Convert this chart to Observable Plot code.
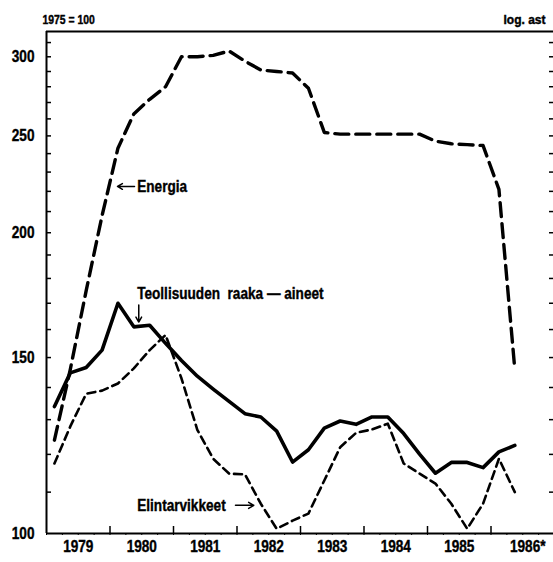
<!DOCTYPE html>
<html><head><meta charset="utf-8">
<script src="https://cdn.jsdelivr.net/npm/d3@7"></script>
<script src="https://cdn.jsdelivr.net/npm/@observablehq/plot@0.6"></script>
<style>body{margin:0;background:#fff} svg{display:block}</style>
</head><body><div id="chart"></div>
<script>
// ---- data ----
const years = [1979, 1980, 1981, 1982, 1983, 1984, 1985, 1986];
const yearLabels = ["1979", "1980", "1981", "1982", "1983", "1984", "1985", "1986*"];
const quarterYear = [1979,1979,1979,1979,1980,1980,1980,1980,1981,1981,1981,1981,1982,1982,1982,1982,1983,1983,1983,1983,1984,1984,1984,1984,1985,1985,1985,1985,1986,1986];
const quarterNum  = [1,2,3,4,1,2,3,4,1,2,3,4,1,2,3,4,1,2,3,4,1,2,3,4,1,2,3,4,1,2];
const energia = [124, 146, 175, 208, 243, 263, 272, 280, 300, 300, 301, 304, 297, 291, 290, 289, 279, 252, 251, 251, 251, 251, 251, 251, 247, 245.5, 245, 244.5, 221, 146];
const teollisuus = [134, 144.8, 146.6, 152.6, 170, 161, 161.6, 155, 149, 143.7, 139.5, 135.6, 131.8, 130.8, 126.6, 117.9, 121.3, 127.5, 129.6, 128.6, 130.8, 130.8, 125.9, 120.1, 114.9, 117.8, 117.8, 116.4, 120.7, 122.5];
const elintarvikkeet = [117.5, 128, 138, 139, 141.3, 146.3, 152.6, 158, 143, 127, 118.8, 114.8, 114.6, 107.1, 101.1, 103, 104.7, 113, 122, 126.1, 127.1, 128.8, 117.5, 114.8, 112.2, 107.1, 101.1, 107.1, 118.8, 110];
const yTickValues = [100, 150, 200, 250, 300];
const yMinorTicks = [110,120,130,140,150,160,170,180,190,200,210,220,230,240,250,260,270,280,290,300,310];
const baseNote = "1975 = 100";
const scaleNote = "log. ast";
// annotations (data coordinates)
const annotText = ["Energia", "Teollisuuden  raaka — aineet", "Elintarvikkeet"];
const annotX = [1980.428, 1980.428, 1980.428];
const annotY = [222.5, 174, 106.7];
const arrowX1 = [1980.386, 1980.453, 1981.976];
const arrowY1 = [222.5, 169.3, 106.7];
const arrowX2 = [1980.118, 1980.453, 1982.265];
const arrowY2 = [222.5, 162.8, 106.7];

// ---- build tables ----
const t = quarterYear.map((y, i) => y + (quarterNum[i] - 0.5) / 4);
const rows = (vals) => vals.map((v, i) => ({x: t[i], y: v}));
const labels = years.map((y, i) => ({x: y + 0.5, label: yearLabels[i]}));
const annots = annotText.map((s, i) => ({x: annotX[i], y: annotY[i], text: s}));
const arrows = arrowX1.map((x, i) => ({x1: x, y1: arrowY1[i], x2: arrowX2[i], y2: arrowY2[i]}));
const quarterTicks = d3.range(1979, 1987.01, 0.25);
const yearTicks = years.slice(1).concat([1987]);

const ff = "'Liberation Sans', Arial, sans-serif";

const chart = Plot.plot({
  width: 553, height: 562,
  marginLeft: 46, marginRight: 0, marginTop: 31, marginBottom: 29,
  style: {fontFamily: ff, fontWeight: "bold", fontSize: "17px", color: "#000", background: "#fff"},
  x: {type: "linear", domain: [1979, 1987], range: [46, 554], axis: null},
  y: {type: "log", domain: [100, 318], range: [533, 31], axis: null},
  marks: [
    Plot.ruleY([100], {stroke: "#000", strokeWidth: 2}),
    Plot.ruleY([318], {stroke: "#000", strokeWidth: 2}),
    Plot.ruleX([1979], {stroke: "#000", strokeWidth: 2}),
    Plot.axisY({anchor: "left", ticks: yMinorTicks, tickSize: -5, tickFormat: () => "", label: null, strokeWidth: 1.5}),
    Plot.axisY({anchor: "right", ticks: yMinorTicks, tickSize: -5, tickFormat: () => "", label: null, strokeWidth: 1.5}),
    Plot.axisY({anchor: "left", ticks: yTickValues, tickSize: 0, tickPadding: 12, tickFormat: d => String(d), label: null, fontSize: 17, fontWeight: "bold"}),
    Plot.axisX({anchor: "bottom", ticks: yearTicks, tickSize: -7, tickFormat: () => "", label: null, strokeWidth: 1.5}),
    Plot.axisX({anchor: "bottom", ticks: quarterTicks, tickSize: 2, tickFormat: () => "", label: null}),
    Plot.text(labels.slice(0, 7), {x: "x", text: "label", frameAnchor: "bottom", dy: 18.5, fontSize: 17, fontWeight: "bold"}),
    Plot.text(labels.slice(7), {x: "x", text: "label", frameAnchor: "bottom", dy: 18.5, dx: 5, fontSize: 17, fontWeight: "bold"}),
    Plot.text([baseNote], {frameAnchor: "top-left", text: d => d, textAnchor: "start", dx: -4, dy: -16.5, fontSize: 13, fontWeight: "bold"}),
    Plot.text([scaleNote], {frameAnchor: "top-right", text: d => d, textAnchor: "end", dx: -8, dy: -16.5, fontSize: 12, fontWeight: "bold", className: "plain"}),
    Plot.line(rows(elintarvikkeet), {x: "x", y: "y", stroke: "#000", strokeWidth: 2.6, strokeDasharray: "8,5"}),
    Plot.line(rows(energia), {x: "x", y: "y", stroke: "#000", strokeWidth: 3.4, strokeDasharray: "14,7"}),
    Plot.line(rows(teollisuus), {x: "x", y: "y", stroke: "#000", strokeWidth: 3.6}),
    Plot.text(annots, {x: "x", y: "y", text: "text", textAnchor: "start", fontSize: 17, fontWeight: "bold"}),
    Plot.arrow(arrows, {x1: "x1", y1: "y1", x2: "x2", y2: "y2", stroke: "#000", strokeWidth: 1.5, headLength: 6})
  ]
});
document.getElementById("chart").appendChild(chart);
// condense and darken the bold type, like the original's heavy condensed face;
// re-anchor at the start so the condensed text keeps its intended placement
chart.querySelectorAll("text").forEach(el => {
  if (!el.textContent || !el.textContent.trim()) return;
  el.style.stroke = "#000";
  el.style.strokeWidth = "0.4px";
  if (el.closest(".plain")) return;
  const len = el.getComputedTextLength();
  if (len > 0) {
    const L = len * 0.8;
    const anchor = getComputedStyle(el).textAnchor;
    el.setAttribute("textLength", L.toFixed(1));
    el.setAttribute("lengthAdjust", "spacingAndGlyphs");
    if (anchor === "end") { el.setAttribute("text-anchor", "start"); el.setAttribute("dx", (-L).toFixed(1)); }
    else if (anchor === "middle") { el.setAttribute("text-anchor", "start"); el.setAttribute("dx", (-L / 2).toFixed(1)); }
  }
});
</script>
</body></html>
